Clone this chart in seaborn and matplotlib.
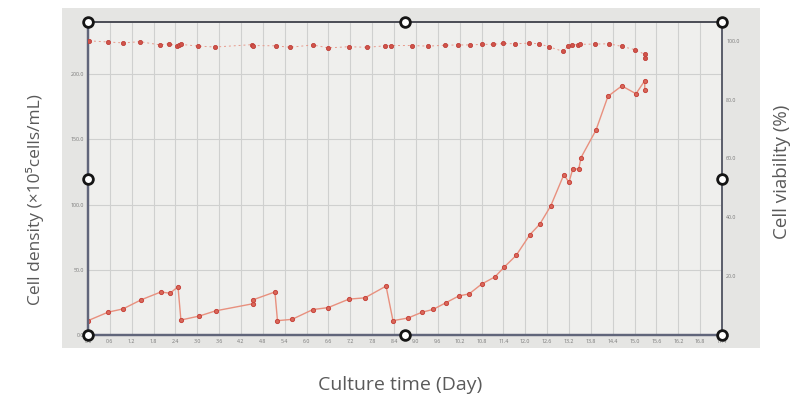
import matplotlib
matplotlib.use("Agg")
import matplotlib.pyplot as plt
import seaborn as sns
import pandas as pd
import numpy as np
from matplotlib.patches import Rectangle

# ---- data ----
density_days = [0.0, 0.55, 0.96, 1.46, 2.0, 2.25, 2.47, 2.55, 3.05, 3.5,
                4.53, 4.53, 5.13, 5.2, 5.6, 6.17, 6.59, 7.16, 7.6, 8.18,
                8.37, 8.78, 9.17, 9.47, 9.82, 10.18, 10.46, 10.8, 11.17, 11.42,
                11.75, 12.13, 12.4, 12.7, 13.06, 13.2, 13.3, 13.47, 13.53, 13.94,
                14.27, 14.65, 15.04, 15.28, 15.28]
density = [11, 17.5, 20, 27, 33, 32, 37, 11.5, 14.5, 18.5,
           24, 27, 33, 11, 12, 19.5, 21, 27.5, 28.5, 37.5,
           11, 13, 17.5, 19.6, 24.7, 30, 31.5, 39, 44.6, 52,
           61, 77, 85, 99, 123, 117, 127, 127.5, 136, 157,
           183, 191, 185, 195, 188]

viability_days = [0.03, 0.55, 0.96, 1.43, 1.98, 2.22, 2.44, 2.5, 2.55, 3.02,
                  3.49, 4.5, 4.53, 5.16, 5.54, 6.17, 6.59, 7.16, 7.66, 8.15,
                  8.32, 8.89, 9.33, 9.8, 10.15, 10.48, 10.81, 11.11, 11.39, 11.72,
                  12.10, 12.38, 12.65, 13.04, 13.17, 13.28, 13.45, 13.5, 13.91, 14.3,
                  14.65, 15.01, 15.28, 15.28]
viability = [100.0, 99.6, 99.3, 99.7, 98.6, 99.0, 98.3, 98.7, 98.8, 98.2,
             97.9, 98.7, 98.4, 98.3, 97.8, 98.6, 97.6, 98.0, 97.8, 98.3,
             98.4, 98.4, 98.2, 98.5, 98.6, 98.6, 98.8, 98.8, 99.1, 99.0,
             99.2, 99.0, 98.0, 96.4, 98.2, 98.6, 98.7, 98.8, 98.9, 99.0,
             98.1, 97.0, 95.4, 94.0]

x_ticks = [round(0.6 * i, 1) for i in range(30)]
x_tick_labels = [f"{v:.1f}" for v in x_ticks]
left_ticks = [0, 50, 100, 150, 200]
left_tick_labels = ["0.0", "50.0", "100.0", "150.0", "200.0"]
right_ticks = [0, 20, 40, 60, 80, 100]
right_tick_labels = ["0", "20.0", "40.0", "60.0", "80.0", "100.0"]

x_label = "Culture time (Day)"
left_label = "Cell density (\u00d710\u2075cells/mL)"
right_label = "Cell viability (%)"

dens_df = pd.DataFrame({"day": density_days, "density": density})
via_df = pd.DataFrame({"day": viability_days, "viability": viability})

# ---- figure ----
sns.set_theme(style="white")
plt.rcParams["font.family"] = ["Open Sans", "DejaVu Sans"]

W, H = 792, 400
fig = plt.figure(figsize=(W / 100, H / 100), dpi=100, facecolor="white")

# screen area (photo of a monitor)
screen = Rectangle((62 / W, 1 - 348 / H), (760 - 62) / W, (348 - 8) / H,
                   transform=fig.transFigure, facecolor="#e5e5e3",
                   edgecolor="none", zorder=-10)
fig.add_artist(screen)

ax = fig.add_axes([88 / W, 1 - 335 / H, (722 - 88) / W, (335 - 22) / H])
ax.set_facecolor("#efefed")
ax2 = ax.twinx()

line_col = "#e8907e"
mark_col = "#c8443c"

sns.lineplot(data=dens_df, x="day", y="density", ax=ax, sort=False, estimator=None,
             color=line_col, linewidth=1.0, marker="o", markersize=3.0,
             markerfacecolor="#d8685a", markeredgecolor=mark_col, markeredgewidth=0.7,
             zorder=3)
sns.lineplot(data=via_df, x="day", y="viability", ax=ax2, sort=False, estimator=None,
             color="#e79a8c", linewidth=0.7, linestyle=(0, (2, 3)), marker="o",
             markersize=3.0, markerfacecolor="#d0544a", markeredgecolor="#c0403a",
             markeredgewidth=0.6, zorder=3)

ax.set_xlim(0, 17.4)
ax.set_ylim(0, 240)
ax2.set_ylim(0, 106.4)

ax.set_xticks(x_ticks)
ax.set_xticklabels(x_tick_labels)
ax.set_yticks(left_ticks)
ax.set_yticklabels(left_tick_labels)
ax2.set_yticks(right_ticks)
ax2.set_yticklabels(right_tick_labels)

for a in (ax, ax2):
    a.tick_params(axis="both", length=0, labelsize=3.8, labelcolor="#777777", pad=3)
    a.set_xlabel("")
    a.set_ylabel("")

ax.grid(True, color="#cfd0cf", linewidth=0.8)
ax.set_axisbelow(True)

for a in (ax, ax2):
    for side in ("top", "right"):
        a.spines[side].set_visible(True)
        a.spines[side].set_color("#5a5d6a")
        a.spines[side].set_linewidth(1.2)
    for side in ("left", "bottom"):
        a.spines[side].set_color("#60657a")
        a.spines[side].set_linewidth(1.6)
ax2.spines["top"].set_color("#4a4c55")
ax.spines["top"].set_color("#4a4c55")

# selection handles around the pasted chart
hx = [0, 0.5, 1, 0, 1, 0, 0.5, 1]
hy = [1, 1, 1, 0.5, 0.5, 0, 0, 0]
ax2.plot(hx, hy, linestyle="none", marker="o", markersize=7, markerfacecolor="white",
         markeredgecolor="#151515", markeredgewidth=2.0, transform=ax2.transAxes,
         clip_on=False, zorder=10)

# outer labels
fig.text(400 / W, 1 - 385 / H, x_label, ha="center", va="center",
         fontsize=14, color="#5a5a5a")
fig.text(35 / W, 1 - 200 / H, left_label, ha="center", va="center", rotation=90,
         fontsize=12.5, color="#5a5a5a")
fig.text(782 / W, 1 - 172 / H, right_label, ha="center", va="center", rotation=90,
         fontsize=13.5, color="#5a5a5a")

fig.savefig("out.png", dpi=100, facecolor="white")
